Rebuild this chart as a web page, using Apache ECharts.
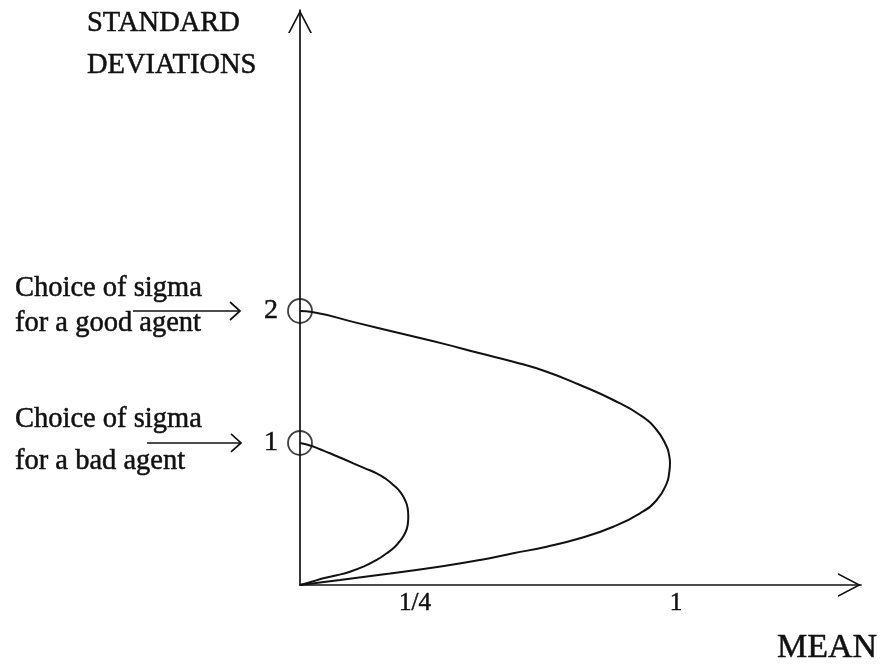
<!DOCTYPE html>
<html><head><meta charset="utf-8">
<script src="https://cdn.jsdelivr.net/npm/echarts@6/dist/echarts.min.js"></script>
<style>html,body{margin:0;padding:0;background:#fff}#c{width:888px;height:669px}</style>
</head><body><div id="c"></div>
<script>
// Bad agent frontier: [mean, standard deviation]
const badCurve = [[0,0],[0.0289,0.0261],[0.0507,0.0472],[0.0798,0.0683],[0.1087,0.0937],[0.1376,0.1289],[0.1667,0.1761],[0.1885,0.2232],[0.2065,0.2697],[0.2189,0.3169],[0.2283,0.3641],[0.2341,0.4225],[0.2354,0.4810],[0.2341,0.5401],[0.2283,0.5986],[0.2174,0.6570],[0.2028,0.7042],[0.1848,0.7514],[0.1667,0.7866],[0.1413,0.8218],[0.1159,0.8570],[0.0907,0.8923],[0.0652,0.9275],[0.0435,0.9556],[0.0254,0.9789],[0,1]];
// Good agent frontier: [mean, standard deviation]
const goodCurve = [[0,0],[0.1064,0.0365],[0.2394,0.0839],[0.3830,0.1387],[0.4787,0.1825],[0.5673,0.2314],[0.6561,0.2796],[0.7447,0.3409],[0.8333,0.4255],[0.9043,0.5234],[0.9487,0.6204],[0.9753,0.7423],[0.9822,0.8270],[0.9840,0.8883],[0.9814,0.9513],[0.9753,1.0095],[0.9487,1.1314],[0.9043,1.2409],[0.8333,1.3504],[0.7447,1.4599],[0.6561,1.5569],[0.5673,1.6299],[0.4787,1.6912],[0.3830,1.7599],[0.2660,1.8372],[0.1489,1.9153],[0.0319,1.9927],[0,2]];
const badChoice = [[0,1]];
const goodChoice = [[0,2]];
const badXTicks = [0.25], badXTickLabels = ['1/4'];
const goodXTicks = [1], goodXTickLabels = ['1'];
const badYTicks = [1], badYTickLabels = ['1'];
const goodYTicks = [2], goodYTickLabels = ['2'];

const INK = '#111';
const FONT = '"Liberation Serif", "Times New Roman", serif';
const chevron = 'path://M12,0 L24,23 L22.2,23 L12,3.4 L1.8,23 L0,23 Z';

function lab(ticks, labels, extra) {
  return Object.assign({
    show: true, customValues: ticks,
    formatter: v => labels[ticks.indexOf(v)] ?? '',
    color: INK, fontFamily: FONT, textBorderColor: INK, textBorderWidth: 0.5
  }, extra);
}
function axLine(showLine) {
  return showLine ? { show: true, onZero: false, lineStyle: { color: INK, width: 1.7 }, symbol: ['none', chevron], symbolSize: [24, 23], symbolOffset: [0, -11.5] } : { show: false };
}
function xAx(max, ticks, labels, showLine) {
  return {
    type: 'value', min: 0, max: max, position: 'bottom', offset: 0,
    axisLine: axLine(showLine), axisTick: { show: false }, splitLine: { show: false },
    axisLabel: lab(ticks, labels, { fontSize: 25, margin: 6 })
  };
}
function yAx(max, ticks, labels, showLine) {
  return {
    type: 'value', min: 0, max: max, position: 'left', offset: 0,
    axisLine: axLine(showLine), axisTick: { show: false }, splitLine: { show: false },
    axisLabel: lab(ticks, labels, { fontSize: 28, margin: 22 })
  };
}

const chart = echarts.init(document.getElementById('c'), null, { renderer: 'canvas' });
chart.setOption({
  animation: false,
  backgroundColor: '#fff',
  grid: { left: 300, right: 27, top: 10, bottom: 84, containLabel: false },
  xAxis: [xAx(1.2196, badXTicks, badXTickLabels, true), xAx(1.492, goodXTicks, goodXTickLabels, false)],
  yAxis: [yAx(4.049, badYTicks, badYTickLabels, true), yAx(4.197, goodYTicks, goodYTickLabels, false)],
  series: [
    { type: 'line', name: 'bad agent', xAxisIndex: 0, yAxisIndex: 0, data: badCurve, showSymbol: false, smooth: 0.5, clip: false, lineStyle: { color: INK, width: 2 } },
    { type: 'line', name: 'good agent', xAxisIndex: 1, yAxisIndex: 1, data: goodCurve, showSymbol: false, smooth: 0.5, clip: false, lineStyle: { color: INK, width: 2 } },
    { type: 'scatter', xAxisIndex: 0, yAxisIndex: 0, data: badChoice, symbol: 'circle', symbolSize: 24, clip: false, itemStyle: { color: 'rgba(0,0,0,0)', borderColor: INK, borderWidth: 1.8 } },
    { type: 'scatter', xAxisIndex: 1, yAxisIndex: 1, data: goodChoice, symbol: 'circle', symbolSize: 24, clip: false, itemStyle: { color: 'rgba(0,0,0,0)', borderColor: INK, borderWidth: 1.8 } }
  ]
});

const pBad = chart.convertToPixel({ xAxisIndex: 0, yAxisIndex: 0 }, badChoice[0]);
const pGood = chart.convertToPixel({ xAxisIndex: 1, yAxisIndex: 1 }, goodChoice[0]);

function txt(text, x, y, size) {
  return { type: 'text', silent: true, style: { text: text, x: x, y: y, font: size + 'px ' + FONT, fill: INK, stroke: INK, lineWidth: 0.5, align: 'left', verticalAlign: 'middle' } };
}
function arrow(x0, x1, y) {
  return [
    { type: 'line', silent: true, shape: { x1: x0, y1: y, x2: x1, y2: y }, style: { stroke: INK, lineWidth: 1.7 } },
    { type: 'polyline', silent: true, shape: { points: [[x1 - 10, y - 9], [x1, y], [x1 - 10, y + 9]] }, style: { stroke: INK, lineWidth: 1.7, fill: null } }
  ];
}
chart.setOption({
  graphic: [
    txt('STANDARD', 87, 24, 28.5),
    txt('DEVIATIONS', 87, 66, 28.5),
    txt('Choice of sigma', 15, 289, 28.5),
    txt('for a good agent', 15, 324, 28.5),
    txt('Choice of sigma', 15, 420, 28.5),
    txt('for a bad agent', 15, 462, 28.5),
    txt('MEAN', 777, 648, 34),
    ...arrow(133, 240, pGood[1]),
    ...arrow(147, 241, pBad[1])
  ]
});
</script>
</body></html>
